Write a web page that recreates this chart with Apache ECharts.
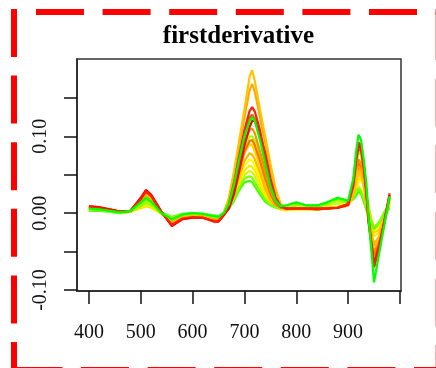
<!DOCTYPE html>
<html>
<head>
<meta charset="utf-8">
<script src="https://cdn.jsdelivr.net/npm/echarts@6/dist/echarts.min.js"></script>
<style>html,body{margin:0;padding:0;background:#fff;}#c{width:436px;height:368px;}</style>
</head>
<body>
<div id="c"></div>
<script>
const title = 'firstderivative';
const wavelengths = [400,420,440,460,480, 500,510,520,540,560, 580,600,620,640,650, 660,670,680,690,700, 710,715,720,730,740, 750,760,770,780,800, 820,840,860,880,900, 910,915,920,925,930, 935,940,950,960,970, 980];
const xTicks = [400,500,600,700,800,900,1000];
const xLabels = [400,500,600,700,800,900];
const yTicks = [-0.10,-0.05,0.00,0.05,0.10,0.15];
const yLabels = [-0.10,0.00,0.10];

const yellow = [.005,.005,.003,.001,.002, .007,.010,.008,-.001,-.008, -.004,-.003,-.003,-.006,-.006, .000,.010,.025,.045,.062, .070,.068,.062,.045,.028, .015,.008,.005,.004,.005, .005,.005,.006,.008,.012, .020,.030,.040,.045,.038, .025,.005,-.020,-.020,-.004, .012];
const yellowGreen = [.004,.004,.003,.001,.002, .008,.012,.009,.000,-.006, -.003,-.002,-.002,-.005,-.005, .000,.008,.020,.036,.050, .055,.053,.048,.034,.022, .012,.007,.005,.005,.007, .008,.008,.010,.012,.015, .022,.030,.035,.030,.020, .008,-.005,-.022,-.015,.000, .008];
const paleYellow = [.005,.005,.003,.001,.002, .006,.009,.007,-.001,-.007, -.004,-.002,-.003,-.006,-.006, .000,.008,.022,.040,.055, .062,.060,.055,.040,.025, .014,.008,.005,.004,.005, .005,.005,.006,.008,.012, .022,.035,.045,.045,.035, .022,.004,-.030,-.025,-.006, .010];
const lightGold = [.006,.006,.004,.001,.002, .011,.016,.012,.000,-.010, -.005,-.003,-.004,-.007,-.007, .000,.012,.030,.055,.078, .090,.088,.080,.060,.038, .020,.010,.006,.005,.006, .006,.006,.007,.008,.011, .025,.040,.050,.048,.040, .028,.008,-.025,-.022,-.004, .014];
const amber = [.006,.005,.004,.001,.002, .012,.018,.014,.000,-.011, -.005,-.004,-.004,-.007,-.007, .000,.010,.026,.048,.068, .078,.076,.070,.052,.032, .017,.009,.006,.005,.006, .006,.006,.007,.008,.011, .024,.042,.055,.052,.040, .018,-.008,-.040,-.030,-.006, .016];
const greenLow = [.003,.003,.002,.000,.002, .010,.016,.012,.001,-.005, -.001,.000,-.001,-.003,-.004, .000,.006,.016,.030,.040, .042,.040,.035,.024,.015, .010,.008,.007,.007,.012, .010,.009,.012,.018,.014, .018,.022,.028,.025,.015, .005,-.005,-.020,-.012,.000, .006];
const lime = [.004,.004,.002,.000,.002, .009,.014,.011,.000,-.005, -.002,-.001,-.001,-.004,-.005, .000,.007,.018,.033,.045, .048,.046,.040,.028,.018, .011,.007,.006,.006,.010, .010,.010,.014,.020,.016, .020,.028,.032,.028,.018, .006,-.004,-.018,-.012,.002, .010];
const chartreuse = [.005,.005,.003,.001,.002, .010,.015,.012,.000,-.007, -.002,-.001,-.002,-.005,-.006, .000,.010,.030,.058,.085, .100,.100,.094,.072,.048, .026,.012,.008,.008,.012, .010,.010,.012,.016,.015, .035,.060,.080,.075,.055, .030,-.008,-.072,-.045,-.012, .018];
const darkOrange = [.007,.006,.004,.002,.003, .016,.024,.019,.000,-.014, -.007,-.005,-.005,-.009,-.009, -.001,.010,.030,.056,.080, .094,.095,.088,.068,.045, .025,.012,.007,.006,.006, .006,.005,.006,.007,.010, .028,.050,.065,.060,.045, .015,-.012,-.055,-.038,-.010, .020];
const orange = [.007,.006,.004,.002,.003, .017,.026,.020,.000,-.014, -.007,-.005,-.005,-.009,-.009, -.001,.012,.035,.065,.092, .108,.110,.104,.080,.055, .032,.015,.008,.006,.006, .006,.005,.006,.007,.010, .030,.055,.070,.065,.048, .020,-.010,-.050,-.035,-.010, .020];
const orangeGold = [.007,.006,.004,.002,.003, .016,.024,.018,.000,-.012, -.006,-.004,-.004,-.008,-.008, .000,.018,.050,.088,.125, .160,.168,.158,.125,.092, .058,.028,.011,.006,.006, .006,.005,.006,.007,.010, .025,.045,.060,.055,.040, .012,-.012,-.045,-.032,-.010, .018];
const gold = [.008,.007,.005,.002,.003, .018,.026,.020,.000,-.013, -.006,-.004,-.005,-.009,-.008, .000,.020,.055,.095,.135, .178,.186,.172,.135,.100, .065,.032,.012,.006,.006, .006,.005,.006,.007,.010, .022,.040,.055,.050,.035, .010,-.015,-.045,-.030,-.008, .020];
const redOrange = [.008,.007,.005,.002,.003, .019,.030,.023,.001,-.016, -.008,-.006,-.006,-.010,-.011, -.002,.010,.035,.068,.100, .124,.128,.122,.098,.068, .038,.016,.008,.006,.006, .006,.005,.006,.007,.011, .035,.065,.085,.080,.060, .025,-.012,-.065,-.040,-.010, .026];
const pureRed = [.009,.008,.005,.002,.003, .020,.030,.024,.002,-.017, -.008,-.006,-.006,-.011,-.011, -.003,.006,.025,.055,.088, .112,.120,.120,.102,.078, .045,.020,.009,.006,.006, .006,.006,.006,.007,.011, .038,.068,.088,.085,.062, .028,-.012,-.068,-.042,-.010, .024];
const red = [.008,.007,.004,.002,.003, .018,.028,.022,.001,-.015, -.007,-.005,-.006,-.010,-.010, -.002,.012,.040,.075,.108, .133,.138,.132,.108,.075, .042,.018,.009,.006,.006, .006,.006,.006,.007,.012, .040,.070,.092,.088,.065, .030,-.015,-.070,-.045,-.012, .022];
const green = [.006,.005,.003,.001,.003, .014,.020,.015,.000,-.008, -.002,.000,-.001,-.004,-.005, .000,.012,.038,.070,.100, .120,.125,.120,.095,.065, .035,.016,.009,.010,.014, .010,.010,.014,.020,.016, .045,.078,.102,.095,.070, .040,-.010,-.090,-.052,-.015, .022];

const seriesValues = [yellow, yellowGreen, paleYellow, lightGold, amber, greenLow, lime, chartreuse, darkOrange, orange, orangeGold, gold, redOrange, pureRed, red, green];
const seriesColors = ['#ffff00','#c8ff00','#ffe800','#ffd800','#ffb800','#40ff00','#80ff00','#a0ff00','#ff7000','#ff8c00','#ffa800','#ffc400','#ff5000','#ff0000','#ff2000','#00ff00'];

const chart = echarts.init(document.getElementById('c'), null, {renderer:'canvas'});
const font = 'Liberation Serif';
const dash = [48, 18.6];
const red6 = {stroke:'#ff0000', lineWidth:6, lineDash:dash};
chart.setOption({
  animation:false,
  backgroundColor:'#ffffff',
  title:{text:title, left:233.5, top:19, textAlign:'center',
    textStyle:{fontFamily:font, fontSize:25, fontWeight:'bold', color:'#000'}},
  grid:{left:77, right:35, top:59, bottom:77, show:true, borderColor:'#333', borderWidth:1.5},
  xAxis:{type:'value', min:377, max:1002,
    axisLine:{show:true, onZero:false, lineStyle:{color:'#222', width:1.5}},
    axisTick:{show:true, length:13, lineStyle:{color:'#111', width:1.5}, customValues:xTicks},
    axisLabel:{customValues:xLabels, margin:32, fontFamily:font, fontSize:20, color:'#111'},
    splitLine:{show:false}},
  yAxis:{type:'value', min:-0.1013, max:0.2005,
    axisLine:{show:true, onZero:false, lineStyle:{color:'#222', width:1.5}},
    axisTick:{show:true, length:13, lineStyle:{color:'#111', width:1.5}, customValues:yTicks},
    axisLabel:{customValues:yLabels, rotate:90, margin:26, fontFamily:font, fontSize:20, color:'#111',
      formatter:v=>v.toFixed(2)},
    splitLine:{show:false}},
  series: seriesValues.map((vals,i)=>({
    type:'line', symbol:'none', silent:true,
    data: wavelengths.map((w,j)=>[w, vals[j]]),
    lineStyle:{color:seriesColors[i], width:2.2},
    itemStyle:{color:seriesColors[i]}
  })),
  graphic:[
    {type:'line', silent:true, shape:{x1:36, y1:12, x2:440, y2:12}, style:red6},
    {type:'line', silent:true, shape:{x1:14, y1:9, x2:14, y2:372}, style:red6},
    {type:'line', silent:true, shape:{x1:14.4, y1:370, x2:440, y2:370}, style:red6},
    {type:'line', silent:true, shape:{x1:438.7, y1:12, x2:438.7, y2:372}, style:red6}
  ]
});
</script>
</body>
</html>
